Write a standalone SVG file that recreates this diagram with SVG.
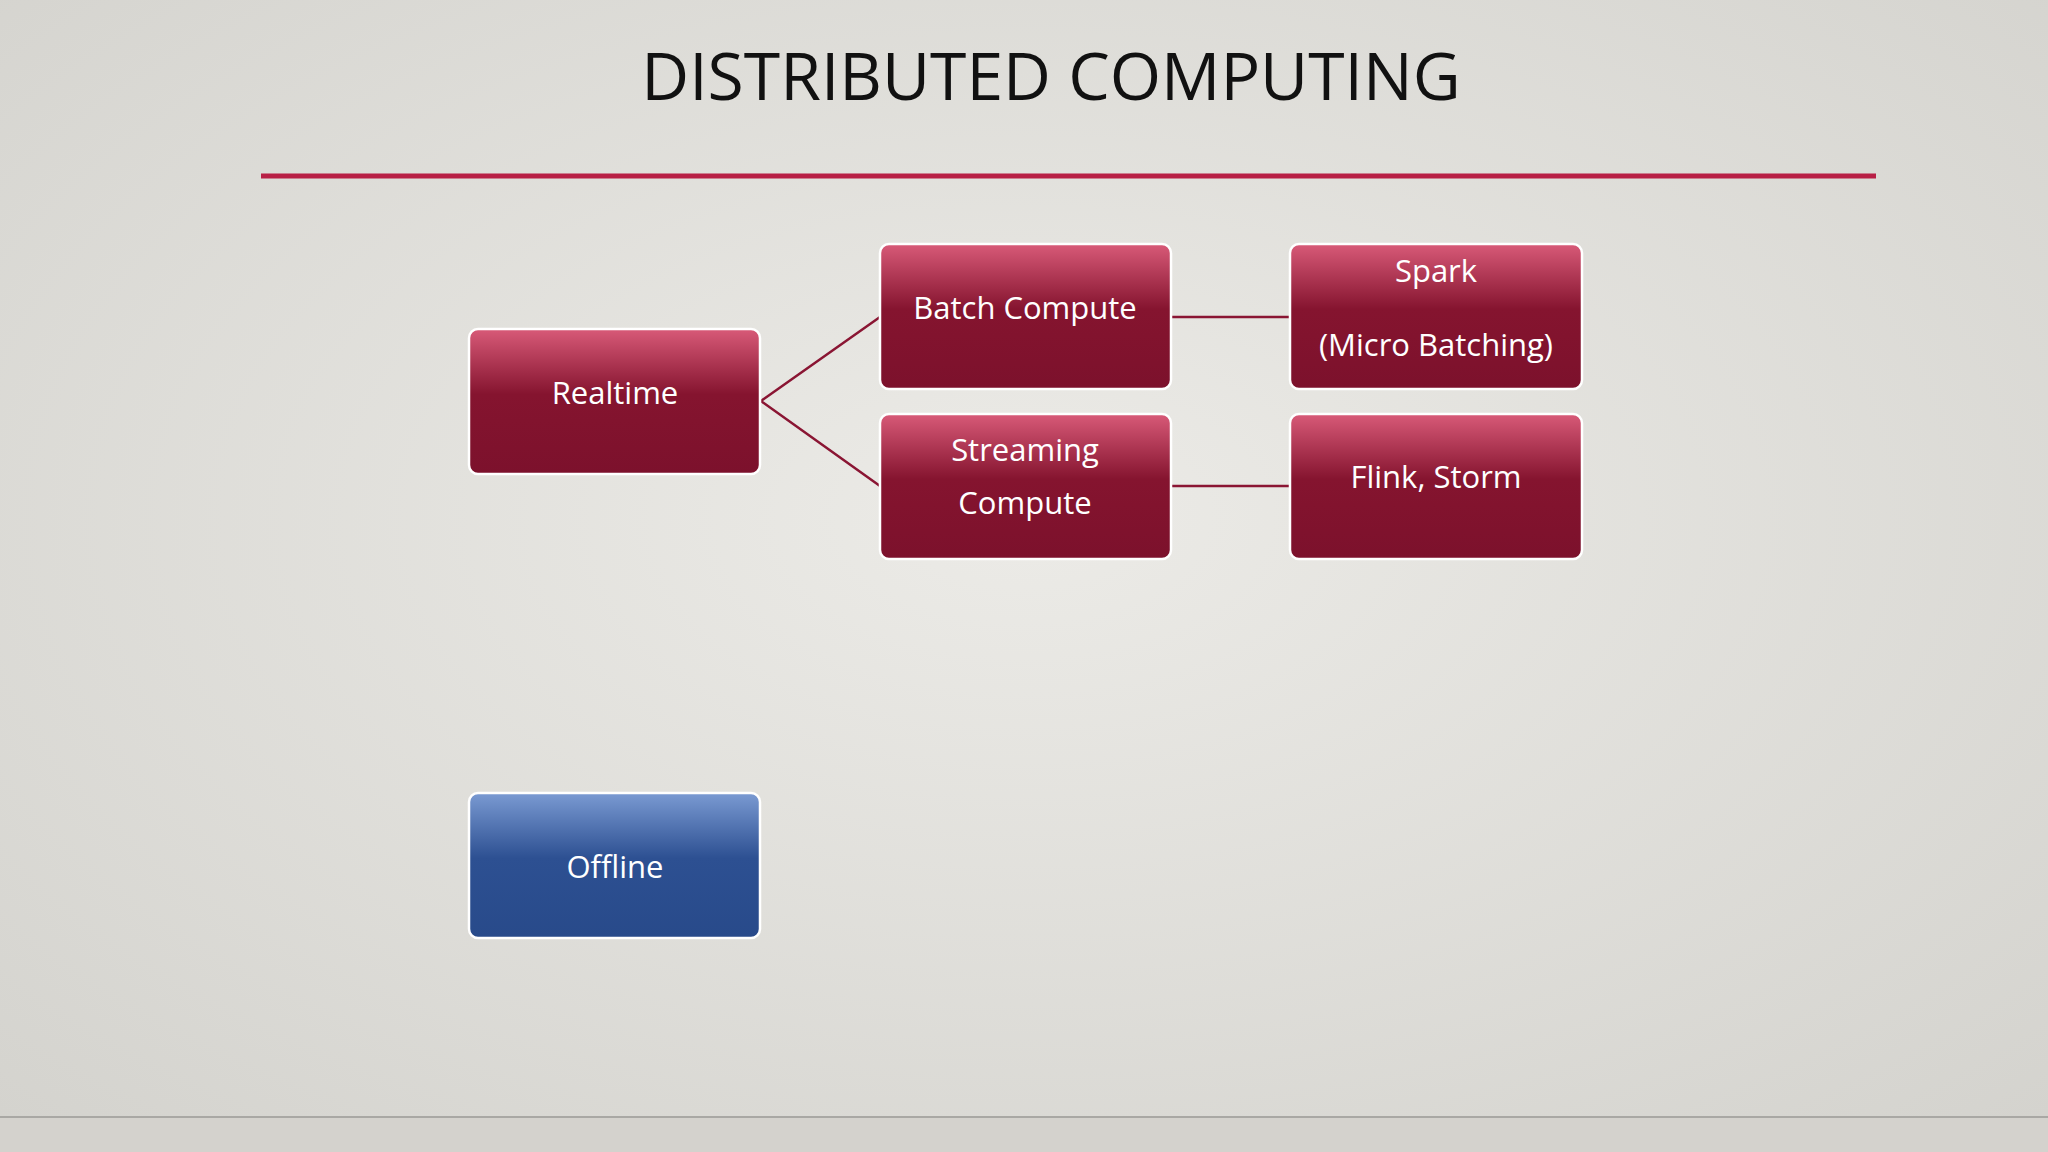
<svg xmlns="http://www.w3.org/2000/svg" width="2048" height="1152" viewBox="0 0 2048 1152">
<defs>
<radialGradient id="bg" cx="0.5" cy="0.45" r="0.75">
<stop offset="0" stop-color="#ecebe7"/><stop offset="1" stop-color="#d3d2cd"/>
</radialGradient>
<linearGradient id="red" x1="0" y1="0" x2="0" y2="1">
<stop offset="0" stop-color="#d85a78"/><stop offset="0.45" stop-color="#85142f"/><stop offset="1" stop-color="#7c112c"/>
</linearGradient>
<linearGradient id="blue" x1="0" y1="0" x2="0" y2="1">
<stop offset="0" stop-color="#7a9ad2"/><stop offset="0.45" stop-color="#2d5092"/><stop offset="1" stop-color="#284a8a"/>
</linearGradient>
<style>
.box{stroke:#ffffff;stroke-width:2.5}
.t{font-family:"Open Sans","Noto Sans",sans-serif;fill:#ffffff;font-size:31px;text-anchor:middle}
.c{stroke:#8a1533;stroke-width:2.5;fill:none}
</style>
</defs>
<rect width="2048" height="1152" fill="url(#bg)"/>
<rect y="1117" width="2048" height="35" fill="#d4d2cd"/>
<line x1="0" y1="1117" x2="2048" y2="1117" stroke="#a9a8a4" stroke-width="2"/>
<text x="1051" y="100" font-family="Open Sans, Noto Sans, sans-serif" font-size="66" text-anchor="middle" fill="#111">DISTRIBUTED COMPUTING</text>
<line x1="261" y1="176" x2="1876" y2="176" stroke="#b81f45" stroke-width="5"/>
<g id="connectors">
<polyline class="c" points="880,317 761,401 880,486"/>
<line class="c" x1="1170" y1="317" x2="1290" y2="317"/>
<line class="c" x1="1170" y1="486" x2="1290" y2="486"/>
</g>
<g id="realtime"><rect class="box" x="469" y="329" width="291" height="145" rx="9" fill="url(#red)"/><text class="t" x="615" y="404">Realtime</text></g>
<g id="batch"><rect class="box" x="880" y="244" width="291" height="145" rx="9" fill="url(#red)"/><text class="t" x="1025" y="319">Batch Compute</text></g>
<g id="streaming"><rect class="box" x="880" y="414" width="291" height="145" rx="9" fill="url(#red)"/><text class="t" x="1025" y="461">Streaming</text><text class="t" x="1025" y="514">Compute</text></g>
<g id="spark"><rect class="box" x="1290" y="244" width="292" height="145" rx="9" fill="url(#red)"/><text class="t" x="1436" y="282">Spark</text><text class="t" x="1436" y="356">(Micro Batching)</text></g>
<g id="flink"><rect class="box" x="1290" y="414" width="292" height="145" rx="9" fill="url(#red)"/><text class="t" x="1436" y="488">Flink, Storm</text></g>
<g id="offline"><rect class="box" x="469" y="793" width="291" height="145" rx="9" fill="url(#blue)"/><text class="t" x="615" y="878" font-size="40">Offline</text></g>
</svg>
